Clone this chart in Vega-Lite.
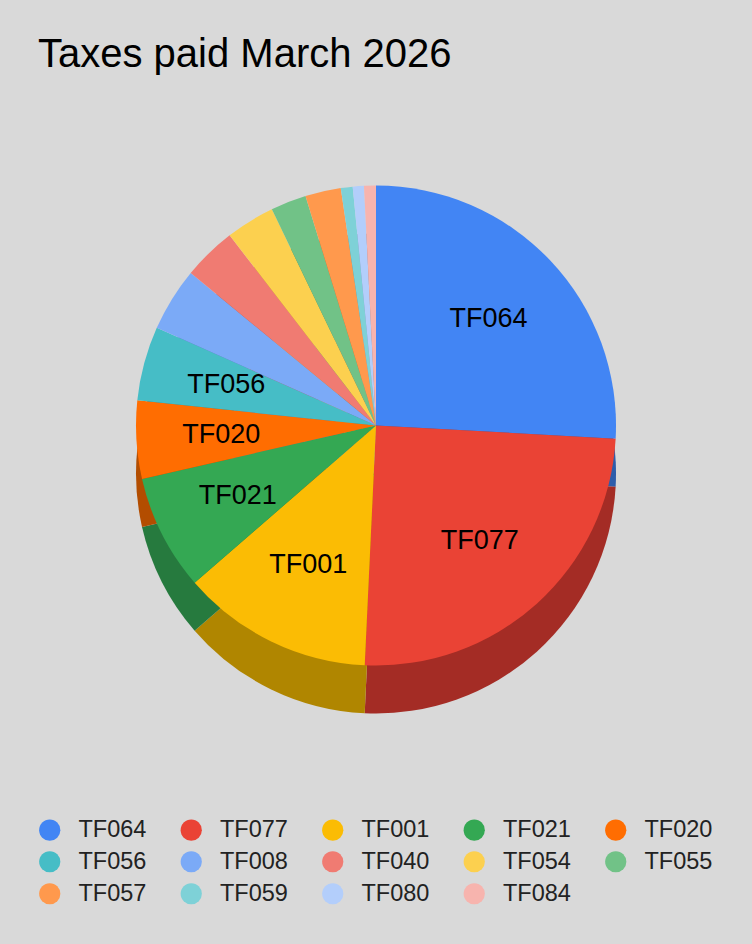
{
  "$schema": "https://vega.github.io/schema/vega-lite/v6.json",
  "width": 752,
  "height": 944,
  "autosize": {"type": "fit", "contains": "padding"},
  "padding": {"left": 38, "top": 35, "right": 38, "bottom": 38},
  "background": "#d9d9d9",
  "title": {
    "text": "Taxes paid March 2026",
    "anchor": "start",
    "font": "Liberation Sans",
    "fontSize": 40,
    "fontWeight": "normal",
    "color": "#000000",
    "offset": 16
  },
  "data": {
    "values": [
      {"id": "TF064", "pct": 25.9, "ord": 1},
      {"id": "TF077", "pct": 24.9, "ord": 2},
      {"id": "TF001", "pct": 12.9, "ord": 3},
      {"id": "TF021", "pct": 7.8, "ord": 4},
      {"id": "TF020", "pct": 5.25, "ord": 5},
      {"id": "TF056", "pct": 5.0, "ord": 6},
      {"id": "TF008", "pct": 4.3, "ord": 7},
      {"id": "TF040", "pct": 3.6, "ord": 8},
      {"id": "TF054", "pct": 3.3, "ord": 9},
      {"id": "TF055", "pct": 2.4, "ord": 10},
      {"id": "TF057", "pct": 2.4, "ord": 11},
      {"id": "TF059", "pct": 0.8, "ord": 12},
      {"id": "TF080", "pct": 0.75, "ord": 13},
      {"id": "TF084", "pct": 0.8, "ord": 14}
    ]
  },
  "encoding": {
    "theta": {"field": "pct", "type": "quantitative", "stack": true},
    "order": {"field": "ord", "type": "quantitative"}
  },
  "layer": [
    {
      "mark": {"type": "arc", "outerRadius": 240, "yOffset": 48, "strokeWidth": 0},
      "encoding": {
        "color": {
          "field": "id",
          "type": "nominal",
          "sort": {"field": "ord"},
          "scale": {
            "domain": ["TF064","TF077","TF001","TF021","TF020","TF056","TF008","TF040","TF054","TF055","TF057","TF059","TF080","TF084"],
            "range": ["#2e5dab","#a42c25","#b08600","#267a3e","#b34d00","#318489","#5677ad","#a85650","#b09237","#4f885e","#b36b36","#589296","#7d90b0","#ad7e7a"]
          },
          "legend": null
        }
      }
    },
    {
      "mark": {"type": "arc", "outerRadius": 240, "strokeWidth": 0},
      "encoding": {
        "color": {
          "field": "id",
          "type": "nominal",
          "sort": {"field": "ord"},
          "scale": {
            "domain": ["TF064","TF077","TF001","TF021","TF020","TF056","TF008","TF040","TF054","TF055","TF057","TF059","TF080","TF084"],
            "range": ["#4285f4","#ea4335","#fbbc04","#34a853","#ff6d01","#46bdc6","#7baaf7","#f07b72","#fcd04f","#71c287","#ff994d","#7ed1d7","#b3cefb","#f7b4ae"]
          },
          "legend": {
            "title": null,
            "orient": "bottom",
            "direction": "horizontal",
            "columns": 5,
            "symbolType": "circle",
            "symbolSize": 450,
            "symbolStrokeWidth": 0,
            "labelFont": "Liberation Sans",
            "labelFontSize": 23.5,
            "labelColor": "#222222",
            "labelOffset": 17,
            "columnPadding": 32.5,
            "rowPadding": 7,
            "offset": 58
          }
        }
      }
    },
    {
      "transform": [{"filter": "datum.pct >= 5"}],
      "mark": {"type": "text", "radius": 155, "font": "Liberation Sans", "fontSize": 27, "color": "#000000"},
      "encoding": {
        "text": {"field": "id", "type": "nominal"}
      }
    }
  ],
  "resolve": {"scale": {"color": "independent"}},
  "config": {"view": {"stroke": null}}
}
